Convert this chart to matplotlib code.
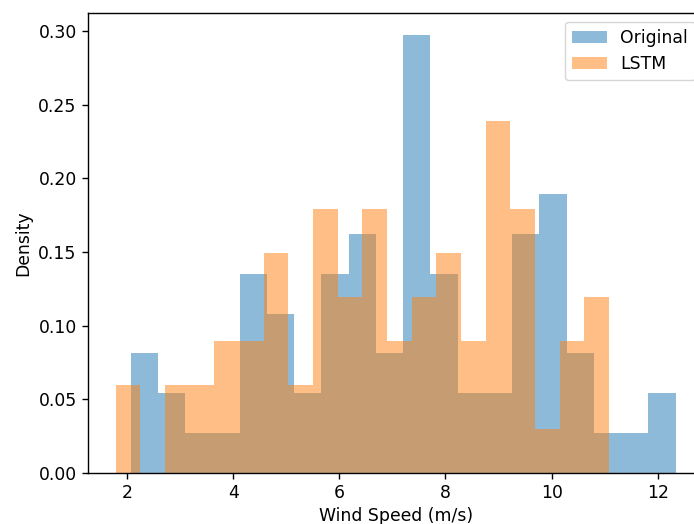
import numpy as np
import matplotlib
matplotlib.use("Agg")
import matplotlib.pyplot as plt

# Histogram counts (20 bins each, 72 samples)
original_counts = [3, 2, 1, 1, 5, 4, 2, 5, 6, 3, 11, 5, 2, 2, 6, 7, 3, 1, 1, 2]
original_range = (2.062, 12.34)
lstm_counts = [2, 0, 2, 2, 3, 3, 5, 2, 6, 4, 6, 3, 4, 5, 3, 8, 6, 1, 3, 4]
lstm_range = (1.779, 11.08)
labels = ["Original", "LSTM"]

plt.rcParams["font.size"] = 12.4
plt.rcParams["xtick.major.size"] = 4.3
plt.rcParams["ytick.major.size"] = 4.3
plt.rcParams["xtick.major.width"] = 1.0
plt.rcParams["ytick.major.width"] = 1.0
plt.rcParams["axes.linewidth"] = 1.0

fig = plt.figure(figsize=(6.94, 5.24), dpi=100)
ax = fig.add_axes([87.5 / 694, (524 - 472.7) / 524, 616.2 / 694, 459.4 / 524])

for counts, rng, lab in [(original_counts, original_range, labels[0]),
                         (lstm_counts, lstm_range, labels[1])]:
    edges = np.linspace(rng[0], rng[1], len(counts) + 1)
    centers = (edges[:-1] + edges[1:]) / 2
    ax.hist(centers, bins=edges, weights=counts, density=True, alpha=0.5, label=lab)

ax.set_xlabel("Wind Speed (m/s)")
ax.set_ylabel("Density")
ax.legend(loc="upper right")

fig.savefig("out.png", dpi=100)
